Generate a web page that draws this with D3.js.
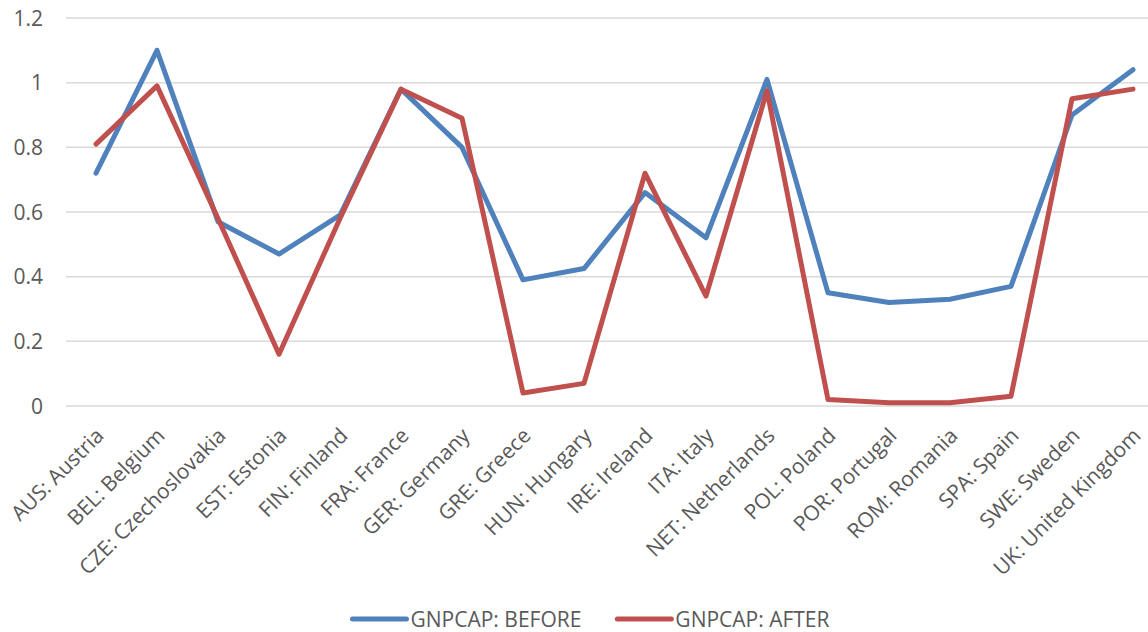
<!DOCTYPE html>
<html>
<head>
<meta charset="utf-8">
<script src="https://cdn.jsdelivr.net/npm/d3@7"></script>
<style>
  body { margin: 0; background: #fff; }
  text { font-family: "Open Sans", sans-serif; fill: #595959; }
</style>
</head>
<body>
<div id="chart"></div>
<script>
// categories on the x axis
var countries = ["AUS: Austria", "BEL: Belgium", "CZE: Czechoslovakia", "EST: Estonia",
    "FIN: Finland", "FRA: France", "GER: Germany", "GRE: Greece", "HUN: Hungary",
    "IRE: Ireland", "ITA: Italy", "NET: Netherlands", "POL: Poland", "POR: Portugal",
    "ROM: Romania", "SPA: Spain", "SWE: Sweden", "UK: United Kingdom"];

// series values
var before = [0.72, 1.10, 0.57, 0.47, 0.59, 0.98, 0.80, 0.39, 0.425, 0.66, 0.52, 1.01,
    0.35, 0.32, 0.33, 0.37, 0.90, 1.04];
var after = [0.81, 0.99, 0.58, 0.16, 0.58, 0.98, 0.89, 0.04, 0.07, 0.72, 0.34, 0.975,
    0.02, 0.01, 0.01, 0.03, 0.95, 0.98];

var yTicks = [0, 0.2, 0.4, 0.6, 0.8, 1, 1.2];
var seriesNames = ["GNPCAP: BEFORE", "GNPCAP: AFTER"];
var colors = ["#4F81BD", "#C0504D"];

var svgWidth = 1148, svgHeight = 632;

var svg = d3.select("#chart").append("svg")
    .attr("width", svgWidth)
    .attr("height", svgHeight);

// plot area runs a little past the right edge, like the cropped original
var xScale = d3.scalePoint()
    .domain(countries)
    .range([65.5, 1163.5])
    .padding(0.5);

var yScale = d3.scaleLinear()
    .domain([0, 1.2])
    .range([406, 18]);

// gridlines
svg.append("g").selectAll("line")
    .data(yTicks)
    .enter().append("line")
    .attr("x1", 66)
    .attr("x2", 1163.5)
    .attr("y1", d => yScale(d))
    .attr("y2", d => yScale(d))
    .attr("stroke", "#d9d9d9")
    .attr("stroke-width", 1.5);

// y tick labels
svg.append("g").selectAll("text")
    .data(yTicks)
    .enter().append("text")
    .attr("x", 43)
    .attr("y", d => yScale(d))
    .attr("dy", "0.36em")
    .attr("text-anchor", "end")
    .style("font-size", "21px")
    .text(d => d);

// x labels, rotated
svg.append("g").selectAll("text")
    .data(countries)
    .enter().append("text")
    .attr("text-anchor", "end")
    .attr("transform", d => `translate(${xScale(d) + 9}, 437) rotate(-45)`)
    .style("font-size", "21px")
    .text(d => d);

// lines
var line = d3.line()
    .x((d, i) => xScale(countries[i]))
    .y(d => yScale(d));

[before, after].forEach(function(series, k) {
    svg.append("path")
        .datum(series)
        .attr("d", line)
        .attr("fill", "none")
        .attr("stroke", colors[k])
        .attr("stroke-width", 5)
        .attr("stroke-linejoin", "round")
        .attr("stroke-linecap", "round");
});

// legend, centred under the chart
var legend = svg.append("g");
var xPos = 0;
seriesNames.forEach(function(name, k) {
    var item = legend.append("g").attr("transform", `translate(${xPos}, 0)`);
    item.append("line")
        .attr("x1", 0).attr("x2", 54)
        .attr("y1", 0).attr("y2", 0)
        .attr("stroke", colors[k])
        .attr("stroke-width", 5)
        .attr("stroke-linecap", "round");
    var t = item.append("text")
        .attr("x", 58)
        .attr("dy", "0.36em")
        .style("font-size", "21px")
        .text(name);
    xPos += 58 + t.node().getComputedTextLength() + 36;
});
var legendWidth = xPos - 36;
legend.attr("transform", `translate(${591 - legendWidth / 2}, 619)`);
</script>
</body>
</html>
